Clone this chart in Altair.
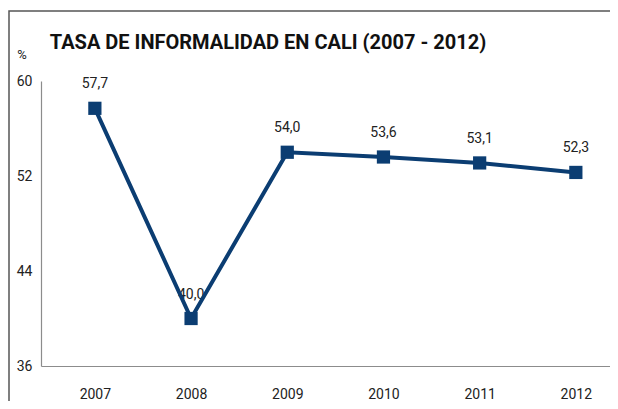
import altair as alt
import pandas as pd

years = [2007, 2008, 2009, 2010, 2011, 2012]
values = [57.7, 40.0, 54.0, 53.6, 53.1, 52.3]
labels = [f"{v:.1f}".replace(".", ",") for v in values]
y_ticks = [36, 44, 52, 60]
title_text = "TASA DE INFORMALIDAD EN CALI (2007 - 2012)"

df = pd.DataFrame({"year": years, "value": values, "label": labels})

W, H = 569, 285
NAVY = "#0B3D72"
FONT = "Roboto"
TXT = "#222222"

x = alt.X("year:Q", scale=alt.Scale(domain=[2006.44, 2012.355], nice=False, zero=False),
          axis=alt.Axis(values=years, format="d", title=None, grid=False, ticks=False,
                        domainColor="#8c8c8c", domainWidth=1.2, labelPadding=21,
                        labelFontSize=14, labelColor=TXT, labelFont=FONT))
y = alt.Y("value:Q", scale=alt.Scale(domain=[36, 60], nice=False, zero=False),
          axis=alt.Axis(values=y_ticks, title=None, grid=False, ticks=False,
                        domainColor="#8c8c8c", domainWidth=1.2, labelPadding=9,
                        labelFontSize=14, labelColor=TXT, labelFont=FONT))

base = alt.Chart(df)

frame = base.mark_rect(fill=None, stroke="#555555", strokeWidth=1.5).encode(
    x=alt.value(-32), x2=alt.value(W + 20), y=alt.value(-70), y2=alt.value(H + 60)
).transform_filter("datum.year == 2007")

text = base.mark_text(dy=-24, fontSize=14, color=TXT, font=FONT).encode(
    x=x, y=y, text="label:N")

line = base.mark_line(color=NAVY, strokeWidth=4).encode(x=x, y=y)
pts = base.mark_point(shape="square", filled=True, size=175, color=NAVY, opacity=1).encode(x=x, y=y)

title = base.mark_text(fontSize=20, fontWeight="bold", color="#111111", align="center",
                       baseline="alphabetic", font=FONT).encode(
    x=alt.value(227), y=alt.value(-32), text=alt.value(title_text)
).transform_filter("datum.year == 2007")

pct = base.mark_text(fontSize=13, color=TXT, align="center", baseline="middle", font=FONT).encode(
    x=alt.value(-19), y=alt.value(-26), text=alt.value("%")
).transform_filter("datum.year == 2007")

chart = alt.layer(frame, text, line, pts, title, pct).properties(
    width=W, height=H,
    background="white",
    autosize=alt.AutoSizeParams(type="none"),
    padding={"left": 33, "top": 73, "right": 0, "bottom": 35},
).configure_view(stroke=None)

chart.save("out.html", embed_options={"renderer": "svg", "actions": False})
